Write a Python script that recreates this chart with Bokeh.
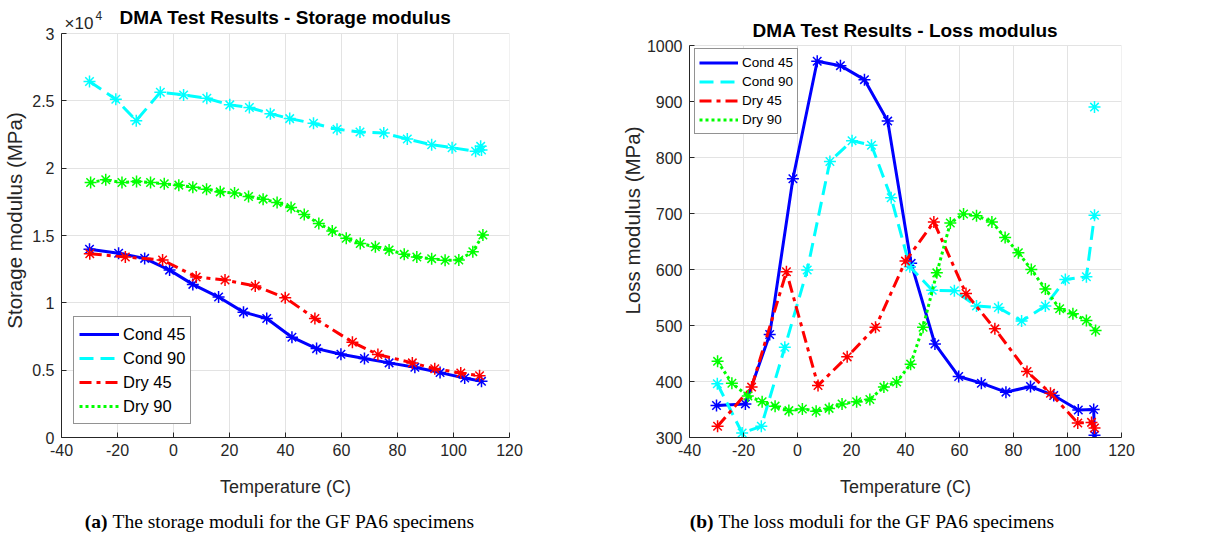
from bokeh.plotting import figure
from bokeh.layouts import row, column
from bokeh.models import Range1d, FixedTicker, Label, Legend, LegendItem
from bokeh.embed import file_html
from bokeh.resources import INLINE

# ---- Storage modulus E' (MPa) vs temperature (C) ----
st_cond45_T = [-30, -19.6, -10.3, -1.4, 6.9, 16.1, 25.0, 33.3, 42.3, 51.1, 59.8, 68.2, 77.0, 86.2, 95.2, 104.0, 110.0]
st_cond45_E = [13980, 13680, 13300, 12430, 11370, 10430, 9310, 8840, 7450, 6600, 6180, 5860, 5540, 5210, 4820, 4420, 4170]

st_cond90_T = [-30, -20.6, -13.3, -4.7, 3.6, 11.9, 20.1, 27.1, 34.6, 41.5, 50.0, 58.4, 66.6, 75.1, 83.5, 92.2, 99.5, 107.9, 109.7, 110.0]
st_cond90_E = [26430, 25120, 23530, 25640, 25440, 25190, 24700, 24500, 24050, 23680, 23330, 22890, 22690, 22610, 22160, 21740, 21520, 21250, 21620, 21350]

st_dry45_T = [-29.9, -17.2, -3.9, 8.1, 18.4, 29.2, 39.9, 50.5, 63.9, 73.0, 85.3, 93.3, 102.6, 109.3]
st_dry45_E = [13650, 13400, 13180, 11920, 11690, 11250, 10380, 8840, 7080, 6160, 5540, 5110, 4790, 4590]

st_dry90_T = [-29.6, -24.2, -18.4, -13.2, -8.2, -3.3, 1.9, 6.9, 11.8, 16.7, 21.8, 26.8, 32.0, 37.0, 42.0,
              46.7, 51.9, 56.7, 61.7, 66.7, 72.1, 77.0, 82.4, 86.9, 92.2, 97.0, 101.9, 106.9, 110.5]
st_dry90_E = [18940, 19140, 18940, 19010, 18940, 18840, 18740, 18590, 18440, 18240, 18150, 17900, 17700, 17450, 17080,
              16560, 15890, 15340, 14800, 14400, 14170, 13930, 13600, 13400, 13280, 13160, 13180, 13800, 15040]

# ---- Loss modulus E'' (MPa) vs temperature (C) ----
ls_cond45_T = [-30, -19.3, -10.3, -1.7, 7.3, 15.9, 24.8, 33.4, 42.1, 50.9, 59.7, 68.1, 77.2, 86.3, 94.9, 104.0, 109.7, 110.0]
ls_cond45_E = [357, 360, 484, 762, 972, 964, 939, 865, 611, 467, 409, 397, 381, 391, 375, 349, 350, 304]

ls_cond90_T = [-29.7, -20.5, -13.4, -4.7, 3.6, 12.0, 20.2, 27.4, 34.7, 41.6, 49.9, 58.1, 66.3, 74.4, 83.0, 91.8, 99.2, 107.0, 110.0, 110.0]
ls_cond90_E = [396, 308, 320, 461, 599, 793, 830, 822, 728, 605, 563, 562, 535, 532, 508, 535, 582, 587, 697, 890]

ls_dry45_T = [-29.6, -17.0, -4.1, 7.6, 18.4, 28.9, 40.0, 50.5, 62.4, 73.1, 85.0, 93.7, 103.8, 108.9, 110.0]
ls_dry45_E = [320, 390, 596, 393, 444, 497, 615, 685, 557, 494, 418, 379, 326, 327, 317]

ls_dry90_T = [-29.6, -24.3, -18.4, -13.1, -8.3, -3.2, 1.8, 6.9, 11.7, 16.5, 21.9, 26.8, 32.0, 36.7, 41.9,
              46.5, 51.6, 56.6, 61.5, 66.3, 72.0, 76.9, 81.8, 86.6, 91.8, 97.1, 102.0, 107.0, 110.4]
ls_dry90_E = [436, 397, 374, 364, 356, 348, 351, 347, 352, 360, 364, 368, 390, 399, 431,
              497, 594, 683, 699, 696, 685, 657, 630, 600, 565, 530, 521, 509, 491]

series_names = ["Cond 45", "Cond 90", "Dry 45", "Dry 90"]
x_ticks = [-40, -20, 0, 20, 40, 60, 80, 100, 120]
storage_ticks = [0, 5000, 10000, 15000, 20000, 25000, 30000]
storage_tick_labels = ["0", "0.5", "1", "1.5", "2", "2.5", "3"]
loss_ticks = [300, 400, 500, 600, 700, 800, 900, 1000]

SANS = "Liberation Sans"
SERIF = "Liberation Serif"
AX = "#262626"
GRID = "#e3e3e3"

STYLES = [
    dict(color="#0000ff", dash="solid"),
    dict(color="#00ffff", dash="14 7"),
    dict(color="#ff0000", dash="12 5 4 5"),
    dict(color="#00ff00", dash="3 3"),
]

PLOT_H = 500          # height of the two chart panels
FOOT_H = 539 - PLOT_H  # caption strip
FRAME_TOP = 3         # frame starts near the top so titles can live inside it
FRAME_BOTTOM = 437    # x axis position


class Panel:
    """A chart panel whose axes box occupies [box_top, FRAME_BOTTOM] of the frame."""

    def __init__(self, width, left, right, box_top, y_ticks, y_label, label_standoff):
        self.left, self.width = left, width - left - right
        self.box_top = box_top
        self.y0, self.y1 = y_ticks[0], y_ticks[-1]
        y_top = self.y0 + (self.y1 - self.y0) * (FRAME_BOTTOM - FRAME_TOP) / (FRAME_BOTTOM - box_top)
        p = figure(width=width, height=PLOT_H, output_backend="svg", toolbar_location=None,
                   x_range=Range1d(x_ticks[0], x_ticks[-1]), y_range=Range1d(self.y0, y_top),
                   min_border_left=left, min_border_right=right,
                   min_border_top=FRAME_TOP, min_border_bottom=PLOT_H - FRAME_BOTTOM)
        p.background_fill_color = "white"
        p.border_fill_color = "white"
        p.outline_line_color = None
        for ax in (p.xaxis[0], p.yaxis[0]):
            ax.axis_line_color = AX
            ax.axis_line_width = 1
            ax.major_tick_line_color = AX
            ax.major_tick_in = 5
            ax.major_tick_out = 0
            ax.minor_tick_line_color = None
            ax.major_label_text_font = SANS
            ax.major_label_text_font_size = "16px"
            ax.major_label_text_color = AX
            ax.axis_label_text_font = SANS
            ax.axis_label_text_font_style = "normal"
            ax.axis_label_text_color = AX
        p.xaxis.ticker = FixedTicker(ticks=x_ticks)
        p.xaxis.major_label_overrides = {t: str(t) for t in x_ticks}
        p.xaxis.major_label_standoff = 6
        p.xaxis.axis_label = "Temperature (C)"
        p.xaxis.axis_label_text_font_size = "18px"
        p.xaxis.axis_label_standoff = 18
        p.yaxis.ticker = FixedTicker(ticks=y_ticks)
        p.yaxis.bounds = (self.y0, self.y1)
        p.yaxis.major_label_standoff = 7
        p.yaxis.axis_label = y_label
        p.yaxis.axis_label_text_font_size = "20.5px"
        p.yaxis.axis_label_standoff = label_standoff
        p.ygrid.grid_line_color = GRID
        p.ygrid.grid_line_width = 1
        # vertical grid lines stop at the top of the axes box
        p.xgrid.visible = False
        p.segment(x0=x_ticks, y0=[self.y0] * len(x_ticks), x1=x_ticks, y1=[self.y1] * len(x_ticks),
                  line_color=GRID, line_width=1, level="underlay")
        self.p = p

    def px_x(self, px):
        return x_ticks[0] + px * (x_ticks[-1] - x_ticks[0]) / self.width

    def px_y(self, py):
        return self.y0 + (FRAME_BOTTOM - py) * (self.y1 - self.y0) / (FRAME_BOTTOM - self.box_top)

    def draw(self, xs, ys, line_xs=None, line_ys=None):
        renderers = []
        for i, (x, y) in enumerate(zip(xs, ys)):
            st = STYLES[i]
            lx = x if line_xs is None or line_xs[i] is None else line_xs[i]
            ly = y if line_ys is None or line_ys[i] is None else line_ys[i]
            r = self.p.line(lx, ly, line_color=st["color"], line_width=3, line_dash=st["dash"])
            self.p.scatter(x, y, marker="asterisk", size=12, line_color=st["color"], line_width=1.5)
            renderers.append(r)
        return renderers

    def legend(self, renderers, x, y, font_size, row_h, glyph_w, pad):
        items = [LegendItem(label=n, renderers=[r]) for n, r in zip(series_names, renderers)]
        lg = Legend(items=items, location=(x, y), margin=0,
                    padding=pad, spacing=0, glyph_width=glyph_w, glyph_height=row_h,
                    label_height=row_h, label_standoff=4,
                    label_text_font=SANS, label_text_font_size=font_size, label_text_color="black",
                    border_line_color=AX, border_line_width=1,
                    background_fill_color="white", background_fill_alpha=1.0)
        self.p.add_layout(lg, "center")

    def text(self, fx, fy, txt, size, bold=False, color="black", align="left"):
        # fx: pixels from the frame's left edge, fy: pixels from the top of the panel
        self.p.add_layout(Label(x=self.px_x(fx), y=self.px_y(fy), text=txt,
                                text_font=SANS, text_font_size=size,
                                text_font_style="bold" if bold else "normal",
                                text_color=color, text_align=align, text_baseline="middle"))


# ---------- (a) storage modulus ----------
A = Panel(613, 60, 104, 33, storage_ticks, "Storage modulus (MPa)", 3)
A.p.yaxis.major_label_overrides = dict(zip(storage_ticks, storage_tick_labels))
ra = A.draw([st_cond45_T, st_cond90_T, st_dry45_T, st_dry90_T],
            [st_cond45_E, st_cond90_E, st_dry45_E, st_dry90_E])
A.legend(ra, 12, 13, "16.5px", 24, 40, 5)
A.text(224.5, 17, "DMA Test Results - Storage modulus", "19px", bold=True, align="center")
A.text(3, 23, "\u00d710", "17px", color=AX)
A.text(34, 15, "4", "12px", color=AX)

# ---------- (b) loss modulus ----------
B = Panel(614, 76, 106, 45, loss_ticks, "Loss modulus (MPa)", 0)
rb = B.draw([ls_cond45_T, ls_cond90_T, ls_dry45_T, ls_dry90_T],
            [ls_cond45_E, ls_cond90_E, ls_dry45_E, ls_dry90_E],
            line_xs=[None, ls_cond90_T[:-1], None, None],
            line_ys=[None, ls_cond90_E[:-1], None, None])
B.legend(rb, 5, 303, "13.5px", 19, 39, 4)
B.text(216, 30, "DMA Test Results - Loss modulus", "19px", bold=True, align="center")

# ---------- sub-captions ----------
foot = figure(width=1227, height=FOOT_H, output_backend="svg", toolbar_location=None,
              x_range=Range1d(0, 1227), y_range=Range1d(FOOT_H, 0),
              x_axis_location=None, y_axis_location=None,
              min_border=0, min_border_left=0, min_border_right=0,
              min_border_top=0, min_border_bottom=0)
foot.outline_line_color = None
foot.grid.visible = False
foot.background_fill_color = "white"
foot.border_fill_color = "white"

CAP_Y = 21
captions = [("(a)", "The storage moduli for the GF PA6 specimens", 107),
            ("(b)", "The loss moduli for the GF PA6 specimens", 713)]
for tag, text, split in captions:
    foot.add_layout(Label(x=split, y=CAP_Y, text=tag, text_font=SERIF, text_font_size="19.5px",
                          text_font_style="bold", text_color="black",
                          text_align="right", text_baseline="middle"))
    foot.add_layout(Label(x=split + 5, y=CAP_Y, text=text, text_font=SERIF, text_font_size="19.5px",
                          text_color="black", text_align="left", text_baseline="middle"))

layout = column(row(A.p, B.p, spacing=0), foot, spacing=0)
open("out.html", "w").write(file_html(layout, INLINE))
